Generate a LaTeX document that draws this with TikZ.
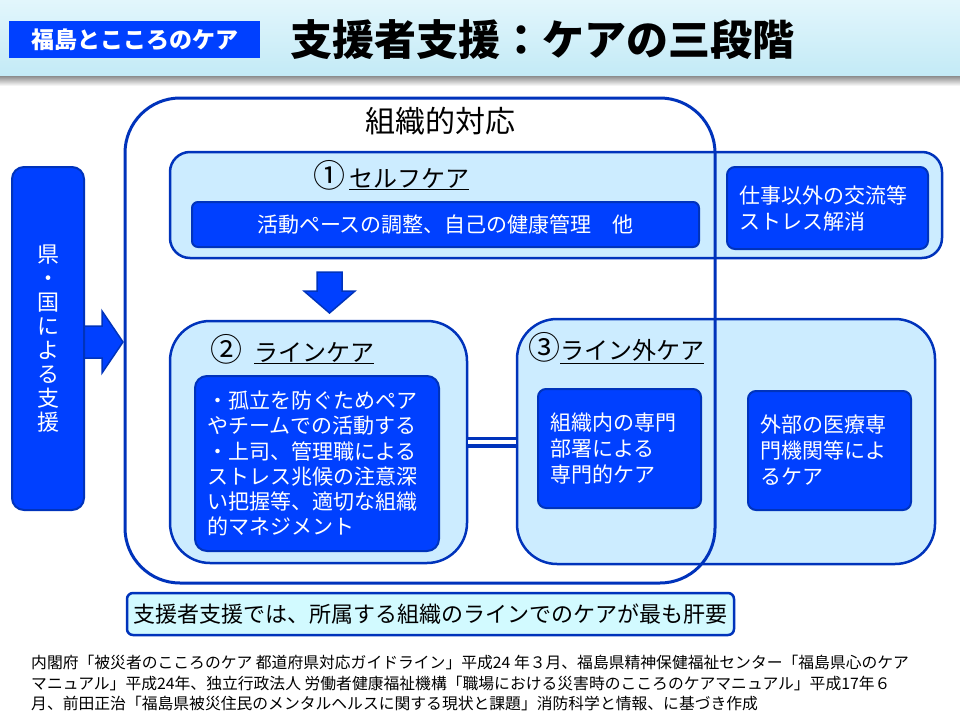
\documentclass[tikz,border=0pt]{standalone}
\usepackage{fontspec}
\setmainfont{Noto Sans CJK JP}
\usepackage{tikz}
\usetikzlibrary{positioning}
\definecolor{darkblue}{HTML}{0033BB}
\definecolor{midblue}{HTML}{0040FF}
\definecolor{paleblue}{HTML}{CCECFF}
\definecolor{palecyan}{HTML}{D2FAFF}
\definecolor{hdtop}{HTML}{E2F6FC}
\definecolor{hdbottom}{HTML}{C3EAF6}

\begin{document}
\begin{tikzpicture}[x=1pt,y=-1pt]
\tikzstyle{every node}=[inner sep=0pt];
\tikzstyle{band}=[draw=darkblue,line width=2.5pt,fill=paleblue];
\tikzstyle{bluebox}=[draw=darkblue,line width=2pt,fill=midblue,text=white,rounded corners=8pt,
  font=\fontsize{21}{26}\selectfont,align=left];
\tikzstyle{headtxt}=[anchor=west,font=\fontsize{24}{24}\selectfont];
\tikzstyle{blockarrow}=[draw=darkblue,line width=1.5pt,fill=midblue];
\newcommand{\circnum}[1]{{\fontsize{32}{32}\selectfont #1}}
\useasboundingbox (0,0) rectangle (960,720);

% header
\shade[top color=hdtop,bottom color=hdbottom] (0,0) rectangle (960,76);
\shade[top color=black!45,bottom color=white] (0,76) rectangle (960,86);
\node[fill=midblue,text=white,minimum width=251pt,minimum height=37pt,
  font=\fontsize{23}{23}\selectfont\bfseries] (tag) at (134.5,39.5) {福島とこころのケア};
\node[anchor=west,font=\fontsize{42}{42}\selectfont\bfseries] (title) at (290,40) {支援者支援：ケアの三段階};

% 1 self care
\node[band,rounded corners=20pt,minimum width=772pt,minimum height=106pt] (self) at (556,205) {};
\node[headtxt] (selfhd) at (313,175) {\circnum{①}\,\underline{セルフケア}};
\node[bluebox,rounded corners=6pt,minimum width=507pt,minimum height=45pt] (selfin) at (445.5,224.5)
  {活動ペースの調整、自己の健康管理　他};
\node[bluebox,text width=177pt,inner xsep=12pt,minimum height=82pt] (other) at (827.5,208)
  {仕事以外の交流等\\ストレス解消};

% 2 line care
\node[band,rounded corners=40pt,minimum width=297pt,minimum height=242pt] (line) at (318.5,442) {};
\node[headtxt] (linehd) at (210,349) {\circnum{②}\hspace{12pt}\underline{ラインケア}};
\node[bluebox,rounded corners=12pt,text width=220pt,inner xsep=12pt,minimum height=175pt,
  font=\fontsize{21}{25.2}\selectfont] (linein) at (317,463.5)
  {・孤立を防ぐためペア\\やチームでの活動する\\・上司、管理職による\\ストレス兆候の注意深\\い把握等、適切な組織\\的マネジメント};

% 3 outside care
\node[band,rounded corners=40pt,minimum width=418pt,minimum height=245pt] (out) at (726,441.5) {};
\node[headtxt] (outhd) at (528,348) {\circnum{③}\underline{ライン外ケア}};
\node[bluebox,text width=139pt,inner xsep=12pt,minimum height=119pt] (outA) at (619.5,448.5)
  {組織内の専門\\部署による\\専門的ケア};
\node[bluebox,text width=139pt,inner xsep=12pt,minimum height=119pt] (outB) at (829.5,450.5)
  {外部の医療専\\門機関等によ\\るケア};

\draw[darkblue,line width=3.5pt,double=white,double distance=4pt] (line.east) -- (line.east -| out.west);

% arrows
\draw[blockarrow] (317,272) -- (342,272) -- (342,291) -- (355,291) -- (329.5,313) -- (304,291) -- (317,291) -- cycle;
\draw[blockarrow] (84,326) -- (102,326) -- (102,311) -- (123,342) -- (102,373) -- (102,358) -- (84,358) -- cycle;

% organisation
\node[draw=darkblue,line width=3pt,rounded corners=55pt,minimum width=590pt,minimum height=485pt] (org) at (420,340.5) {};
\node[font=\fontsize{30}{30}\selectfont] (orghd) at (440,121) {組織的対応};

\node[bluebox,rounded corners=12pt,minimum width=72pt,minimum height=343pt,align=center,
  font=\fontsize{22}{24}\selectfont] (pref) at (48,338.5) {県\\・\\国\\に\\よ\\る\\支\\援};

% bottom
\node[draw=darkblue,line width=2.5pt,fill=palecyan,rounded corners=6pt,minimum width=607pt,minimum height=42pt,
  font=\fontsize{22}{22}\selectfont] (note) at (430.5,614) {支援者支援では、所属する組織のラインでのケアが最も肝要};
\node[anchor=west,align=left,font=\fontsize{15.8}{20.5}\selectfont] (src) at (31,683)
  {内閣府「被災者のこころのケア 都道府県対応ガイドライン」平成24 年３月、福島県精神保健福祉センター「福島県心のケア\\
   マニュアル」平成24年、独立行政法人 労働者健康福祉機構「職場における災害時のこころのケアマニュアル」平成17年６\\
   月、前田正治「福島県被災住民のメンタルヘルスに関する現状と課題」消防科学と情報、に基づき作成};
\end{tikzpicture}
\end{document}
